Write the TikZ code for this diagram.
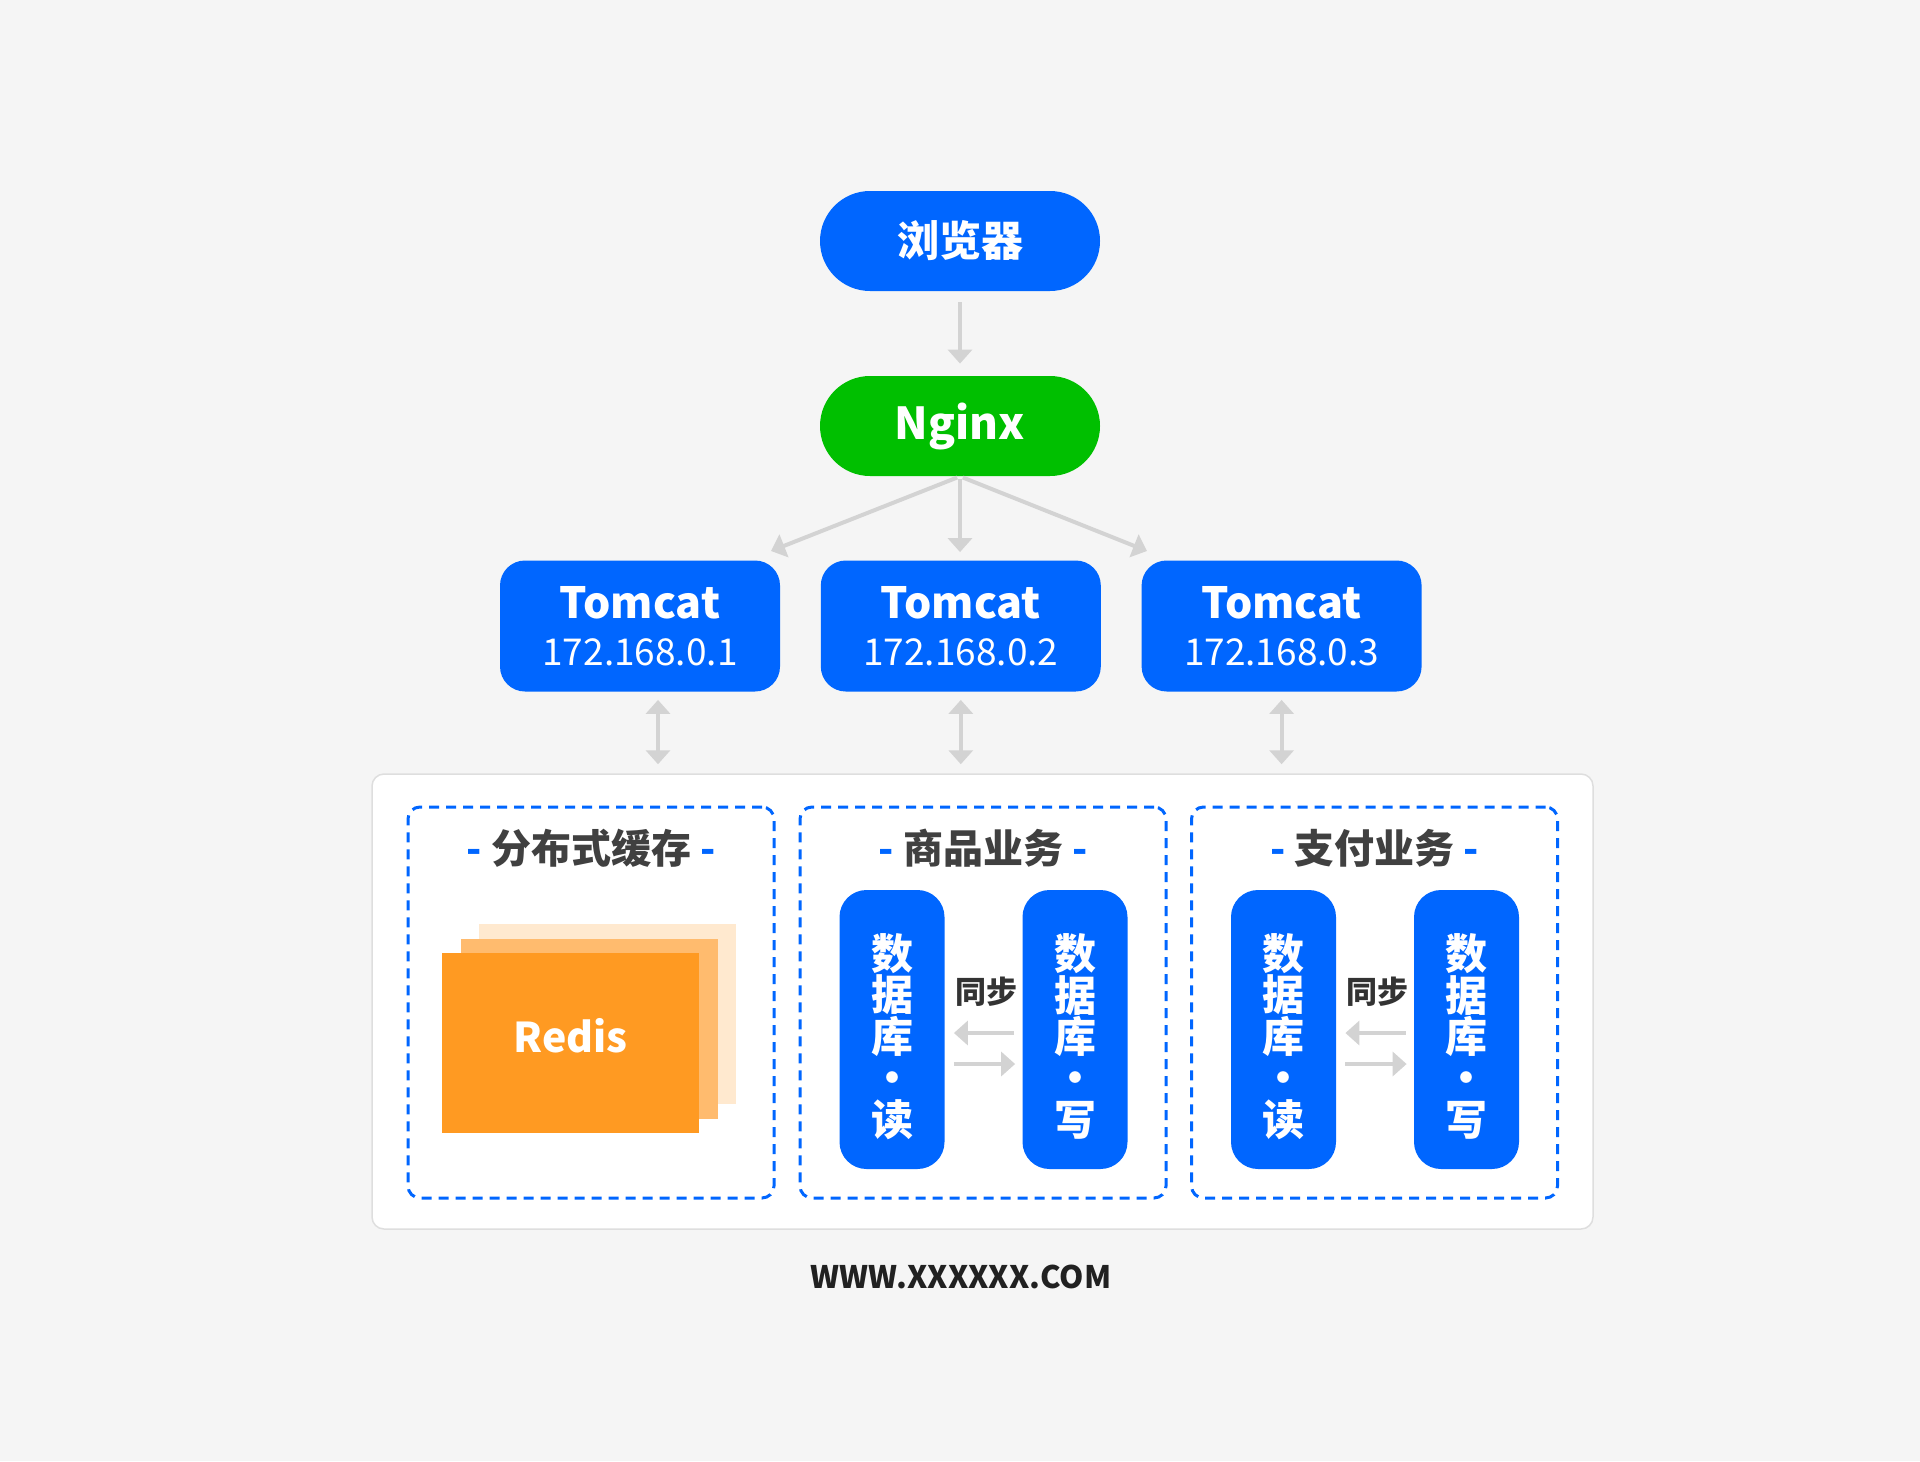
\documentclass[tikz,border=0pt]{standalone}
\usepackage{fontspec}
\setmainfont{Noto Sans CJK SC}
\usetikzlibrary{arrows.meta,positioning}
\definecolor{bgc}{HTML}{F5F5F5}
\definecolor{nblue}{HTML}{0066FF}
\definecolor{ngreen}{HTML}{00BF00}
\definecolor{agray}{HTML}{D3D3D3}
\definecolor{tgray}{HTML}{404040}
\definecolor{oa}{HTML}{FF9A22}
\definecolor{ob}{HTML}{FFBB6E}
\definecolor{oc}{HTML}{FFE9CF}
\tikzset{
  pill/.style={fill=nblue,text=white,minimum width=140pt,minimum height=50pt,
    rounded corners=25pt,font=\fontsize{21}{25}\selectfont\bfseries},
  tomcat/.style={fill=nblue,text=white,minimum width=140pt,minimum height=65.5pt,
    rounded corners=12.5pt,align=center,font=\fontsize{21.5}{23.5}\selectfont\bfseries},
  group/.style={draw=nblue,line width=1.5pt,dash pattern=on 5pt off 3.5pt,
    rounded corners=6pt,minimum width=183pt,minimum height=195.5pt},
  title/.style={text=tgray,font=\fontsize{20}{24}\selectfont\bfseries},
  db/.style={fill=nblue,text=white,minimum width=52.5pt,minimum height=139.5pt,
    rounded corners=13.5pt,align=center,font=\fontsize{21}{20.7}\selectfont\bfseries},
  redis/.style={minimum width=128.5pt,minimum height=90pt,inner sep=0pt},
  arr/.style={draw=agray,line width=2pt,-{Triangle[length=7pt,width=12pt]}},
  dbl/.style={draw=agray,line width=2pt,{Triangle[length=7pt,width=12pt]}-{Triangle[length=7pt,width=12pt]}}
}
\newcommand{\hd}[1]{{\color{nblue}-}\ #1\ {\color{nblue}-}}
\newcommand{\ip}[1]{{\fontsize{18.5}{23.5}\selectfont\mdseries #1}}
\begin{document}
\begin{tikzpicture}[x=0.5pt,y=-0.5pt]
\fill[bgc] (0,0) rectangle (1920,1461);
\useasboundingbox (0,0) rectangle (1920,1461);

\node[pill] (1) at (960,241) {浏览器};
\node[pill,fill=ngreen,font=\fontsize{22}{25}\selectfont\bfseries] (2) at (960,426) {Nginx};

\node[tomcat] (t1) at (640,626) {Tomcat\\\ip{172.168.0.1}};
\node[tomcat,right=20pt of t1] (t2) {Tomcat\\\ip{172.168.0.2}};
\node[tomcat,right=20pt of t2] (t3) {Tomcat\\\ip{172.168.0.3}};

\draw[arr,shorten <=5.5pt,shorten >=6pt] (1) -- (2);
\coordinate (e1) at (771,551);
\coordinate (e3) at (1147,551);
\draw[arr,shorten <=1.5pt] (2.south) -- (e1);
\draw[arr,shorten <=1.5pt,shorten >=4pt] (2.south) -- (2.south |- t2.north);
\draw[arr,shorten <=1.5pt] (2.south) -- (e3);

\node[draw=black!13,line width=0.75pt,fill=white,rounded corners=6pt,
  minimum width=610.5pt,minimum height=227.5pt] (p) at (982.5,1001.5) {};

\draw[dbl,shorten <=4pt,shorten >=4.5pt] ([xshift=9pt]t1.south) -- ([xshift=9pt]t1.south |- p.north);
\draw[dbl,shorten <=4pt,shorten >=4.5pt] (t2.south) -- (t2.south |- p.north);
\draw[dbl,shorten <=4pt,shorten >=4.5pt] (t3.south) -- (t3.south |- p.north);

\node[group] (c1) at (591,1002.5) {};
\node[group] (c2) at (983,1002.5) {};
\node[group] (c3) at (1374.5,1002.5) {};

\node[title] (h1) at ([yshift=-21.5pt]c1.north) {\hd{分布式缓存}};
\node[title] (h2) at ([yshift=-21.5pt]c2.north) {\hd{商品业务}};
\node[title] (h3) at ([yshift=-21.5pt]c3.north) {\hd{支付业务}};

\node[redis,fill=oc] (r3) at (607.5,1013.5) {};
\node[redis,fill=ob] (r2) at (589,1028.5) {};
\node[redis,fill=oa,text=white,text depth=8pt,font=\fontsize{20.5}{25}\selectfont\bfseries] (r1) at (570.5,1043) {Redis};

\foreach \c/\n in {c2/a, c3/b} {
  \node[db] (\n1) at ([xshift=-45.5pt,yshift=-13.5pt]\c.center) {\rule{0pt}{25pt}数\\据\\库\\·\\读};
  \node[db] (\n2) at ([xshift=46pt,yshift=-13.5pt]\c.center) {\rule{0pt}{25pt}数\\据\\库\\·\\写};
  \node[text=black!80,font=\fontsize{15.5}{18}\selectfont\bfseries] (\n s) at ([xshift=1.5pt,yshift=5.25pt]\c.center) {同步};
  \draw[arr,shorten <=4pt,shorten >=4.5pt] ([yshift=-1.75pt]\n2.west) -- ([yshift=-1.75pt]\n1.east);
  \draw[arr,shorten <=4.5pt,shorten >=3.5pt] ([yshift=-17.25pt]\n1.east) -- ([yshift=-17.25pt]\n2.west);
}

\node[text=black!87,font=\fontsize{15.5}{18}\selectfont\bfseries] (w) at (961,1277) {WWW.XXXXXX.COM};
\end{tikzpicture}
\end{document}
